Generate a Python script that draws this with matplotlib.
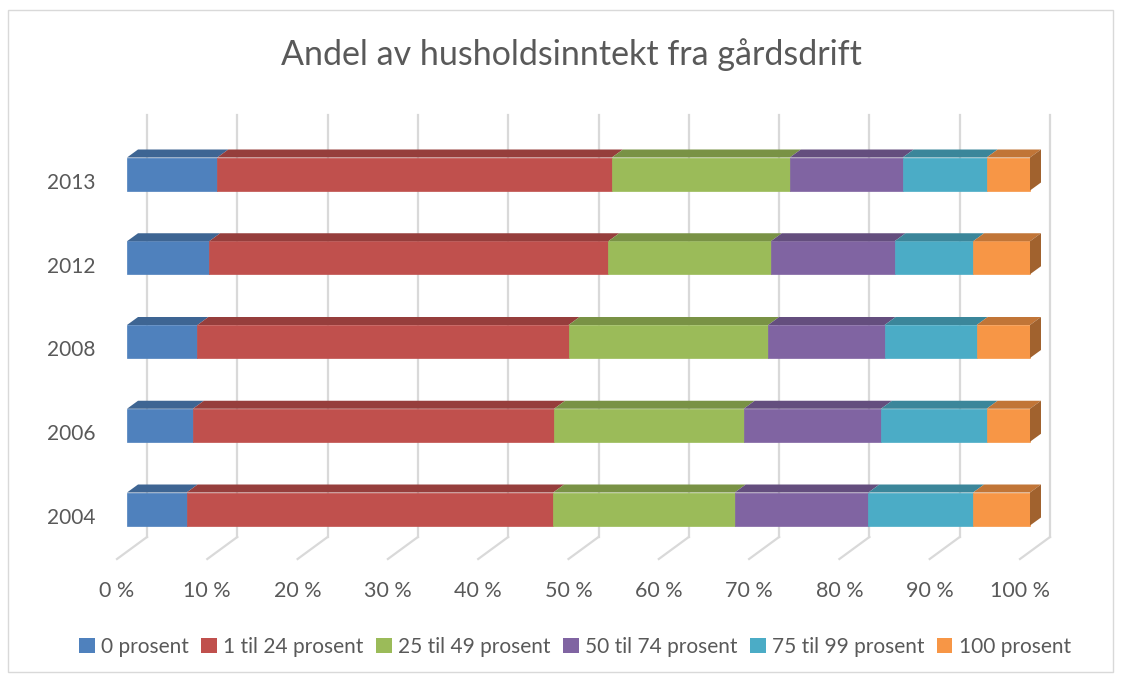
import numpy as np
import matplotlib
matplotlib.use("Agg")
import matplotlib.pyplot as plt
from matplotlib.patches import Polygon, Rectangle, Patch
from matplotlib import colors as mcolors

# data (percent of households)
years = ['2004', '2006', '2008', '2012', '2013']
series = ['0 prosent', '1 til 24 prosent', '25 til 49 prosent',
          '50 til 74 prosent', '75 til 99 prosent', '100 prosent']
p0 = [6.6, 7.3, 7.8, 9.1, 10.0]
p1_24 = [40.6, 40.0, 41.1, 44.2, 43.7]
p25_49 = [20.1, 21.0, 22.1, 18.0, 19.7]
p50_74 = [14.8, 15.2, 12.9, 13.7, 12.5]
p75_99 = [11.6, 11.7, 10.2, 8.7, 9.3]
p100 = [6.3, 4.8, 5.9, 6.3, 4.8]
xticks = [0, 10, 20, 30, 40, 50, 60, 70, 80, 90, 100]

colors = ['#4F81BD', '#C0504D', '#9BBB59', '#8064A2', '#4BACC6', '#F79646']

def shade(c, f):
    r, g, b = mcolors.to_rgb(c)
    return (r * f, g * f, b * f)

W, H = 1121, 679
fig = plt.figure(figsize=(W / 100, H / 100), dpi=100)
plt.rcParams['font.family'] = ['Lato', 'DejaVu Sans']
txt_c = '#595959'

# chart border
fig.patches.append(Rectangle((8 / W, 1 - 672 / H), 1105 / W, 662 / H,
                             transform=fig.transFigure, fill=False,
                             edgecolor='#D9D9D9', lw=1))

# axes placed so that 0..100 % spans the bar fronts
top_px, bot_px = 110, 570
ax = fig.add_axes([127 / W, 1 - bot_px / H, 903 / W, (bot_px - top_px) / H])
ypx = 83.75  # pixels per category
y0 = -(bot_px - 509) / ypx
ax.set_xlim(0, 100)
ax.set_ylim(y0, y0 + (bot_px - top_px) / ypx)
ax.axis('off')

xpx = 903 / 100
dx, dy = 11 / xpx, 8 / ypx            # bar depth
gx, gy = 20 / xpx, (559 - 537) / ypx  # back wall offset
floor_front = y0 + (bot_px - 559) / ypx
grid_top = y0 + (bot_px - 115) / ypx

grid_c = '#D9D9D9'
for v in xticks:
    ax.plot([v + gx, v + gx], [floor_front + gy, grid_top], color=grid_c, lw=1.6,
            zorder=1, clip_on=False)
    ax.plot([v - 10 / xpx, v + gx], [floor_front, floor_front + gy], color=grid_c,
            lw=1.6, zorder=1, clip_on=False)
    ax.text(v - 10 / xpx, floor_front - 32 / ypx, f'{v} %', ha='center', va='center',
            fontsize=15.5, color=txt_c)

data = [p0, p1_24, p25_49, p50_74, p75_99, p100]
ypos = np.arange(len(years))
h = 33 / ypx
left = np.zeros(len(years))
for k, vals in enumerate(data):
    vals = np.array(vals)
    ax.barh(ypos, vals, left=left, height=h, color=colors[k], zorder=3,
            edgecolor=colors[k], lw=0.5, clip_on=False)
    for i in range(len(years)):
        l, r = left[i], left[i] + vals[i]
        t = ypos[i] + h / 2
        ax.add_patch(Polygon([(l, t), (r, t), (r + dx, t + dy), (l + dx, t + dy)],
                             closed=True, facecolor=shade(colors[k], 0.78),
                             edgecolor='none', zorder=3 + k * 0.01, clip_on=False))
        if k == len(data) - 1:
            b = ypos[i] - h / 2
            ax.add_patch(Polygon([(r, b), (r, t), (r + dx, t + dy), (r + dx, b + dy)],
                                 closed=True, facecolor=shade(colors[k], 0.65),
                                 edgecolor='none', zorder=3.1, clip_on=False))
    left = left + vals

for i, yr in enumerate(years):
    ax.text(-32 / xpx, ypos[i] - 9 / ypx, yr, ha='right', va='center',
            fontsize=15, color=txt_c)

fig.text(571 / W, 1 - 55 / H, 'Andel av husholdsinntekt fra gårdsdrift',
         ha='center', va='center', fontsize=24.5, color=txt_c)

handles = [Patch(facecolor=c, edgecolor='none') for c in colors]
fig.legend(handles, series, loc='center', bbox_to_anchor=(575 / W, 1 - 647 / H),
           ncol=6, frameon=False, fontsize=15, labelcolor=txt_c,
           handlelength=0.75, handleheight=0.75, handletextpad=0.3, columnspacing=0.6)

fig.savefig('out.png', dpi=100, facecolor='white')
